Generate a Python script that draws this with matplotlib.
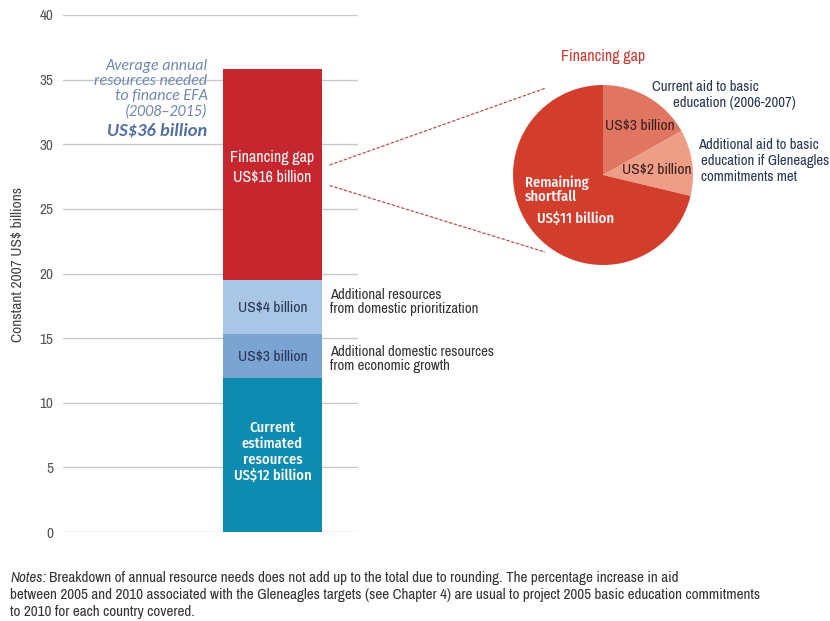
import matplotlib
matplotlib.use("Agg")
import matplotlib.pyplot as plt
from matplotlib.patches import ConnectionPatch

NARROW = ['Archivo Narrow', 'Fira Sans Condensed', 'DejaVu Sans']
BOLDN = ['Fira Sans Condensed', 'Archivo Narrow', 'DejaVu Sans']
ITAL = ['Carlito', 'Open Sans', 'DejaVu Sans']
plt.rcParams['font.family'] = NARROW

# ---- data ----
segments = ["Current estimated resources", "Additional domestic resources from economic growth",
            "Additional resources from domestic prioritization", "Financing gap"]
seg_values = [11.9, 3.4, 4.2, 16.3]
seg_colors = ["#0E8BB0", "#7BA4D2", "#A9C6E6", "#C6262D"]
yticks = [0, 5, 10, 15, 20, 25, 30, 35, 40]

pie_labels = ["Current aid to basic education (2006-2007)",
              "Additional aid to basic education if Gleneagles commitments met",
              "Remaining shortfall"]
pie_values = [2.7, 1.9, 11.4]
pie_colors = ["#E07662", "#EE9D86", "#D33D2C"]

W, H = 830, 621
fig = plt.figure(figsize=(W / 100, H / 100), dpi=100)

def px_rect(l, t, w, h):
    return [l / W, 1 - (t + h) / H, w / W, h / H]

ax = fig.add_axes(px_rect(63, 15, 295, 517))
ax.set_xlim(0, 1)
ax.set_ylim(0, 40)
ax.set_yticks(yticks)
ax.set_xticks([])
for s in ax.spines.values():
    s.set_visible(False)
ax.tick_params(axis='y', length=0, pad=7, labelsize=11, labelcolor="#555555")
ax.yaxis.grid(True, color="#C8C8C8", linewidth=1)
ax.set_axisbelow(True)

bx, bw = 0.71, 0.336
bottom = 0
for v, c in zip(seg_values, seg_colors):
    ax.bar(bx, v, width=bw, bottom=bottom, color=c, edgecolor='none', zorder=3)
    bottom += v

fig.text(17 / W, 1 - 264 / H, "Constant 2007 US$ billions", rotation=90, ha='center',
         va='center', fontsize=11.2, color="#444444")

# labels in bar
ax.text(bx, 28.2, "Financing gap\nUS$16 billion", ha='center', va='center', color='white',
        fontsize=11.5, linespacing=1.35, zorder=4)
ax.text(bx, 17.4, "US$4 billion", ha='center', va='center', color="#2B3555", fontsize=11.2, zorder=4)
ax.text(bx, 13.6, "US$3 billion", ha='center', va='center', color="#2B3555", fontsize=11.2, zorder=4)
ax.text(bx, 6.2, "Current\nestimated\nresources\nUS$12 billion", ha='center', va='center',
        color='white', fontsize=10.5, linespacing=1.15, fontweight='medium', family=BOLDN, zorder=4)

ax.text(0.905, 17.8, "Additional resources\nfrom domestic prioritization", ha='left', va='center',
        color="#333333", fontsize=10.6, linespacing=1.05, clip_on=False)
ax.text(0.905, 13.4, "Additional domestic resources\nfrom economic growth", ha='left', va='center',
        color="#333333", fontsize=10.6, linespacing=1.05, clip_on=False)

# italic annotation
ax.text(0.49, 34.3, "Average annual\nresources needed\nto finance EFA\n(2008\u20132015)",
        ha='right', va='center', fontsize=11.5, style='italic', color="#7088B2",
        family=ITAL, linespacing=1.1)
ax.text(0.49, 31.1, "US$36 billion", ha='right', va='center', fontsize=13.3, style='italic',
        fontweight='bold', color="#5470A0", family=ITAL)

# pie
pax = fig.add_axes(px_rect(513, 85, 180, 180))
pax.pie(pie_values, colors=pie_colors, startangle=90, counterclock=False,
        wedgeprops=dict(edgecolor='none'))
pax.set_xlim(-1, 1)
pax.set_ylim(-1, 1)
pax.set_aspect('equal')
pax.axis('off')

fig.text(603 / W, 1 - 57 / H, "Financing gap", ha='center', va='center', color="#C23A30", fontsize=11.5)
fig.text(652 / W, 1 - 87 / H, "Current aid to basic", ha='left', va='center', color="#2B3555", fontsize=10.6)
fig.text(673 / W, 1 - 103 / H, "education (2006-2007)", ha='left', va='center', color="#2B3555", fontsize=10.6)
fig.text(698 / W, 1 - 145 / H, "Additional aid to basic", ha='left', va='center', color="#2B3555", fontsize=10.6)
fig.text(701 / W, 1 - 161 / H, "education if Gleneagles", ha='left', va='center', color="#2B3555", fontsize=10.6)
fig.text(701 / W, 1 - 177 / H, "commitments met", ha='left', va='center', color="#2B3555", fontsize=10.6)

fig.text(640 / W, 1 - 125 / H, "US$3 billion", ha='center', va='center', color="#3A2020", fontsize=11.2)
fig.text(657 / W, 1 - 170 / H, "US$2 billion", ha='center', va='center', color="#3A2020", fontsize=11.2)
fig.text(525 / W, 1 - 190 / H, "Remaining\nshortfall", ha='left', va='center', color='white',
         fontsize=10.5, fontweight='medium', family=BOLDN, linespacing=1.0)
fig.text(576 / W, 1 - 219 / H, "US$11 billion", ha='center', va='center', color='white',
         fontsize=10.5, fontweight='medium', family=BOLDN)

# dotted connectors
for y0, pt in [(28.4, (-0.633, 0.967)), (26.8, (-0.644, -0.856))]:
    con = ConnectionPatch(xyA=(0.905, y0), coordsA=ax.transData, xyB=pt, coordsB=pax.transData,
                          linestyle=(0, (2, 2)), color="#B85050", linewidth=0.9)
    fig.add_artist(con)

# notes
NS = 10.9
renderer = fig.canvas.get_renderer()
t0 = fig.text(10 / W, 1 - 578 / H, "Notes:", ha='left', va='center', fontsize=NS, style='italic',
              color="#333333")
ext = t0.get_window_extent(renderer=renderer)
fig.text((ext.x1 + 3) / W, 1 - 578 / H,
         "Breakdown of annual resource needs does not add up to the total due to rounding. "
         "The percentage increase in aid", ha='left', va='center', fontsize=NS, color="#333333")
fig.text(10 / W, 1 - 595 / H,
         "between 2005 and 2010 associated with the Gleneagles targets (see Chapter 4) are usual to "
         "project 2005 basic education commitments", ha='left', va='center', fontsize=NS, color="#333333")
fig.text(10 / W, 1 - 612 / H, "to 2010 for each country covered.", ha='left', va='center',
         fontsize=NS, color="#333333")

fig.savefig("out.png", dpi=100)
